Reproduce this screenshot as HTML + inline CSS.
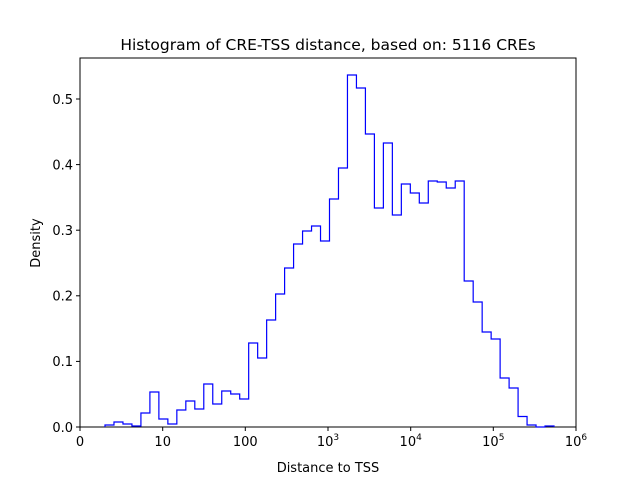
<!DOCTYPE html>
<html><head><style>body{margin:0;background:#fff}svg{display:block}text{font-family:"DejaVu Sans","Liberation Sans",sans-serif;font-size:13px;fill:#000}</style></head>
<body>
<svg width="640" height="480" xmlns="http://www.w3.org/2000/svg">
<rect x="80" y="58" width="496" height="369" fill="#fff" stroke="#000" stroke-width="1"/>
<path id="h" fill="none" stroke="#0000ff" stroke-width="1.2" d=""/>
<g stroke="#000" stroke-width="1">
<line x1="80" y1="427" x2="80" y2="431"/><line x1="162.7" y1="427" x2="162.7" y2="431"/><line x1="245.3" y1="427" x2="245.3" y2="431"/><line x1="328" y1="427" x2="328" y2="431"/><line x1="410.7" y1="427" x2="410.7" y2="431"/><line x1="493.3" y1="427" x2="493.3" y2="431"/><line x1="576" y1="427" x2="576" y2="431"/>
<line x1="76" y1="427" x2="80" y2="427"/><line x1="76" y1="361.4" x2="80" y2="361.4"/><line x1="76" y1="295.8" x2="80" y2="295.8"/><line x1="76" y1="230.2" x2="80" y2="230.2"/><line x1="76" y1="164.6" x2="80" y2="164.6"/><line x1="76" y1="99" x2="80" y2="99"/>
</g>
<g text-anchor="middle">
<text x="80" y="446">0</text><text x="162.7" y="446">10</text><text x="245.3" y="446">100</text>
<text x="328" y="446">10<tspan font-size="9" dy="-6">3</tspan></text>
<text x="410.7" y="446">10<tspan font-size="9" dy="-6">4</tspan></text>
<text x="493.3" y="446">10<tspan font-size="9" dy="-6">5</tspan></text>
<text x="576" y="446">10<tspan font-size="9" dy="-6">6</tspan></text>
</g>
<g text-anchor="end">
<text x="73" y="432">0.0</text><text x="73" y="366">0.1</text><text x="73" y="300.5">0.2</text><text x="73" y="235">0.3</text><text x="73" y="169.5">0.4</text><text x="73" y="104">0.5</text>
</g>
<text x="328" y="472" text-anchor="middle">Distance to TSS</text>
<text x="40" y="243" text-anchor="middle" transform="rotate(-90 40 243)">Density</text>
<text x="328" y="50" text-anchor="middle" style="font-size:15.5px">Histogram of CRE-TSS distance, based on: 5116 CREs</text>
</svg>
<script>
var ys=[425,422,424,426,413,392,419,424,410,401,409,384,404,391,394,399,343,358,320,294,268,244,231,226,241,199,168,75,88,134,208,143,215,184,193,203,181,182,188,181,281,302,332,339,378,388,416.5,425,427,426];
var w=(554-105)/50,d="M105,427";
for(var i=0;i<ys.length;i++){var x0=105+i*w,x1=x0+w;d+=" L"+x0.toFixed(2)+","+ys[i]+" L"+x1.toFixed(2)+","+ys[i];}
d+=" L554,427";
document.getElementById("h").setAttribute("d",d);
</script>
</body></html>
